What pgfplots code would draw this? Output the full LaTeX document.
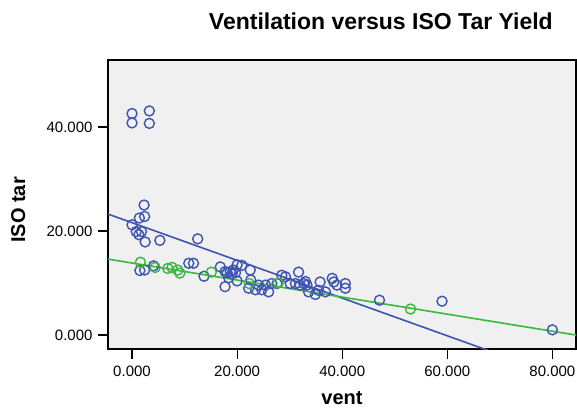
\documentclass[border=0pt]{standalone}
\usepackage{pgfplots}
\pgfplotsset{compat=1.18}
\usepackage{fontspec}
\setmainfont{Liberation Sans}

\definecolor{spssblue}{RGB}{62,84,178}
\definecolor{spssgreen}{RGB}{58,184,62}
\definecolor{plotbg}{RGB}{240,240,240}

\pgfplotstableread{
x y
0.0 42.6
0.0 40.8
3.3 43.1
3.3 40.7
2.3 25.0
1.4 22.5
2.4 22.8
0.0 21.2
0.8 19.9
1.8 19.9
1.3 19.3
2.5 17.9
5.3 18.2
12.5 18.5
1.5 12.4
2.4 12.5
4.1 13.3
10.8 13.8
11.7 13.8
13.7 11.3
16.8 13.1
17.7 12.2
18.7 12.2
19.3 12.5
20.0 13.5
20.9 13.4
22.5 12.5
17.7 9.3
18.4 11.0
20.0 10.4
19.0 11.8
18.1 12.0
19.7 12.0
24.1 9.6
25.4 9.6
26.0 8.3
26.6 9.9
27.6 9.9
28.5 11.5
29.2 11.2
23.5 8.7
24.7 8.7
22.2 9.0
22.6 10.6
31.7 12.1
30.1 9.9
31.1 9.9
32.7 9.9
33.3 9.6
32.0 9.6
33.6 8.3
34.9 7.8
35.8 10.2
35.5 8.6
36.8 8.3
38.1 10.9
38.4 10.2
39.0 9.6
40.6 9.9
40.6 9.0
33.0 10.3
47.1 6.7
59.0 6.5
80.0 1.0
}\bluedata

\pgfplotstableread{
x y
1.6 14.0
4.4 13.0
6.8 12.8
7.6 13.0
8.7 12.5
9.1 11.9
15.1 12.1
22.3 9.9
27.8 10.0
53.0 5.0
}\greendata

\begin{document}
\begin{tikzpicture}
\path[use as bounding box] (0,0) rectangle (577pt,412pt);
\begin{axis}[
    at={(108pt,63pt)},
    anchor=south west,
    scale only axis,
    width=468pt,
    height=289pt,
    xmin=-4.57, xmax=84.5,
    ymin=-2.69, ymax=52.9,
    axis background/.style={fill=plotbg},
    axis line style={black, line width=1.2pt},
    tick pos=left,
    tick align=outside,
    major tick length=10pt,
    tick style={black, line width=1.2pt},
    xtick={0,20,40,60,80},
    ytick={0,20,40},
    /pgf/number format/assume math mode=true,
    /pgf/number format/.cd, fixed, fixed zerofill, precision=3, 1000 sep={},
    /pgfplots/.cd,
    ticklabel style={font=\fontsize{15}{18}\selectfont},
    xticklabel style={yshift=-3pt},
    yticklabel style={xshift=-2pt},
    title={Ventilation versus ISO Tar Yield},
    title style={font=\fontsize{23}{27}\selectfont\bfseries, at={(0.583,1.114)}, anchor=center},
    xlabel={vent},
    xlabel style={font=\fontsize{20}{24}\selectfont\bfseries, at={(0.5,-0.17)}, anchor=center},
    ylabel={ISO tar},
    ylabel style={font=\fontsize{20}{24}\selectfont\bfseries, at={(-0.192,0.481)}, anchor=center, rotate=0},
    clip=true,
]
\addplot[spssblue, line width=1.6pt] coordinates {(-5,23.42) (72,-4.50)};
\addplot[spssgreen, line width=1.6pt] coordinates {(-5,14.67) (86,-0.25)};
\addplot[only marks, mark=o, mark size=5pt, spssblue, mark options={line width=1.4pt}] table[x=x, y=y] {\bluedata};
\addplot[only marks, mark=o, mark size=5pt, spssgreen, mark options={line width=1.4pt}] table[x=x, y=y] {\greendata};
\end{axis}
\end{tikzpicture}
\end{document}
